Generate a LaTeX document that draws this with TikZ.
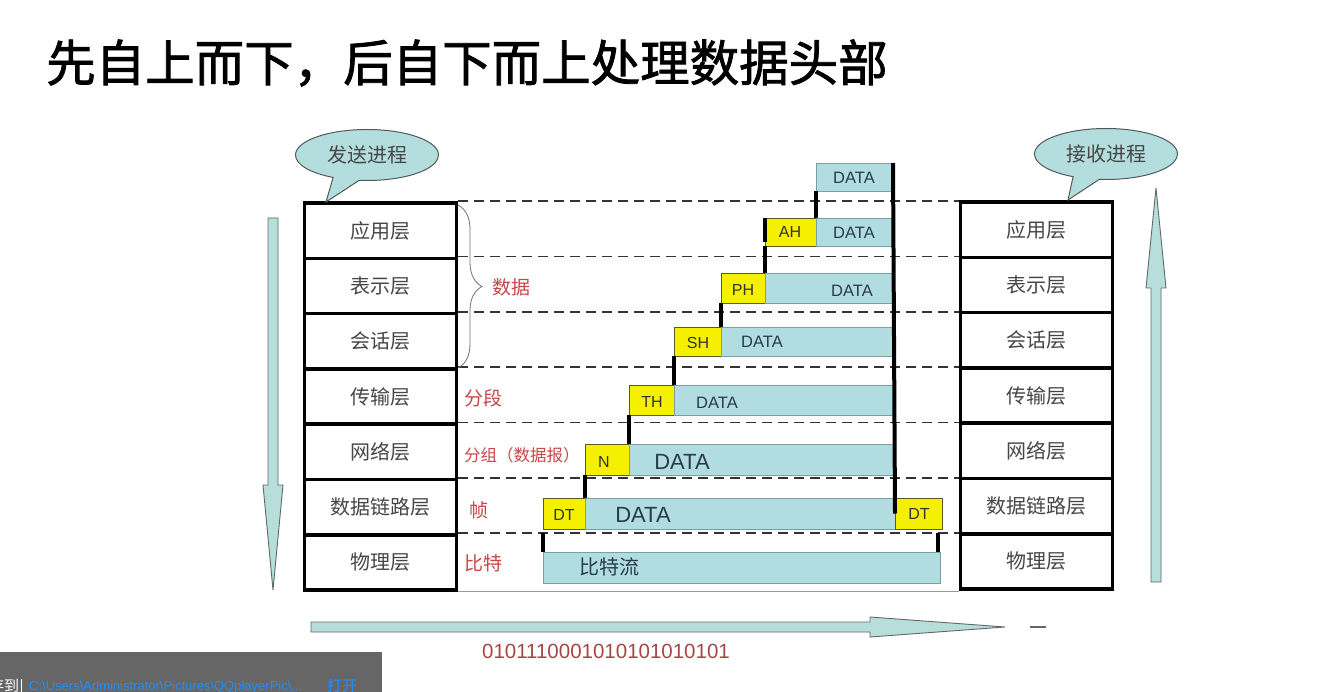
\documentclass[tikz,border=0pt]{standalone}
\usepackage{fontspec}
\setmainfont{Liberation Sans}
\newfontfamily\cjk{Noto Sans CJK SC}
\newfontfamily\cjktitle{Noto Sans CJK SC}[FakeBold=1.6]
\usetikzlibrary{shapes.callouts,decorations.pathreplacing,calc}
\newcommand\myfs[1]{\fontsize{#1}{#1}\selectfont}
\definecolor{tealf}{RGB}{178,221,224}
\definecolor{tealb}{RGB}{120,160,165}
\definecolor{yelf}{RGB}{244,240,0}
\definecolor{yelb}{RGB}{90,90,40}
\definecolor{arrf}{RGB}{184,222,220}
\definecolor{arrb}{RGB}{95,105,105}
\definecolor{callf}{RGB}{180,222,222}
\definecolor{callb}{RGB}{80,90,90}
\definecolor{redl}{RGB}{200,70,70}
\definecolor{binred}{RGB}{165,70,70}
\definecolor{laytxt}{RGB}{70,70,70}
\definecolor{datatxt}{RGB}{40,60,70}
\definecolor{barg}{RGB}{102,102,102}
\definecolor{linkblue}{RGB}{30,144,255}
\newcommand\rbox[6]{\node[#1, minimum width={#4pt-#2pt}, minimum height={#5pt-#3pt}] (#6) at (#2,#3) {};}
\begin{document}
\begin{tikzpicture}[x=1pt,y=-1pt,
  layerbox/.style={draw=black, line width=3.5pt, minimum width=152pt, minimum height=55.3pt, inner sep=0pt, font=\cjk\myfs{20}, text=laytxt},
  databox/.style={draw=tealb, fill=tealf, line width=0.8pt, inner sep=0pt, outer sep=0pt, anchor=north west},
  hdrbox/.style={draw=yelb, fill=yelf, line width=0.8pt, inner sep=0pt, outer sep=0pt, anchor=north west},
  dtxt/.style={font=\myfs{16.5}, text=datatxt, inner sep=0pt},
  htxt/.style={font=\myfs{16}, text=black!80, inner sep=0pt},
  conn/.style={draw=black, line width=4pt},
  dashline/.style={draw=black!80, line width=1.8pt, dash pattern=on 10pt off 6pt},
  redlbl/.style={text=redl, font=\cjk\myfs{19}, inner sep=0pt, anchor=west},
  blockarrow/.style={draw=arrb, fill=arrf, line width=0.9pt, line join=miter},
  callbox/.style={ellipse callout, draw=callb, fill=callf, line width=1pt, minimum width=143pt, minimum height=51pt, inner sep=0pt, font=\cjk\myfs{20}, text=laytxt, callout pointer arc=22}
]
\useasboundingbox (0,0) rectangle (1327,692);
\fill[white] (0,0) rectangle (1327,692);

% title
\node[anchor=west, font=\cjktitle\myfs{49.5}, inner sep=0pt] (title) at (46,63) {先自上而下，后自下而上处理数据头部};

% layer stacks
\foreach \i/\t in {1/应用层,2/表示层,3/会话层,4/传输层,5/网络层,6/数据链路层,7/物理层}{
  \node[layerbox] (l\i) at (380.5,{203+55.3*(\i-0.5)}) {\t};
  \node[layerbox] (r\i) at (1036.5,{202+55.3*(\i-0.5)}) {\t};
}

% dashed separators
\foreach \i in {1,...,7}{
  \draw[dashline] (l\i.north east) -- (l\i.north east -| r\i.west);
}
\draw[black!40, line width=1pt] (l7.south east) -- (l7.south east -| r7.west);

% data boxes
\rbox{databox}{816}{163}{893}{191}{d0}
\rbox{hdrbox}{765}{218}{816}{246}{h1}
\rbox{databox}{816}{218}{893}{246}{d1}
\rbox{hdrbox}{721}{273}{765}{303}{h2}
\rbox{databox}{765}{273}{893}{303}{d2}
\rbox{hdrbox}{674}{327}{721}{356}{h3}
\rbox{databox}{721}{327}{893}{356}{d3}
\rbox{hdrbox}{629}{385}{674}{415}{h4}
\rbox{databox}{674}{385}{893}{415}{d4}
\rbox{hdrbox}{585}{444}{629}{475}{h5}
\rbox{databox}{629}{444}{893}{475}{d5}
\rbox{hdrbox}{543}{498}{585}{529}{h6}
\rbox{databox}{585}{498}{895}{529}{d6}
\rbox{hdrbox}{895}{498}{942}{529}{t6}
\rbox{databox}{543}{552}{940}{583}{d7}

% texts in boxes
\node[dtxt] (x0) at (854,178) {DATA};
\node[dtxt] (x1) at (854,233) {DATA};
\node[dtxt] (x2) at (852,291) {DATA};
\node[dtxt] (x3) at (762,342) {DATA};
\node[dtxt] (x4) at (717,403) {DATA};
\node[dtxt, font=\myfs{22}] (x5) at (682,462) {DATA};
\node[dtxt, font=\myfs{22}] (x6) at (643,515) {DATA};
\node[dtxt, font=\cjk\myfs{20}] (x7) at (609,567) {比特流};
\node[htxt] (y1) at (790,232) {AH};
\node[htxt] (y2) at (743,290) {PH};
\node[htxt] (y3) at (698,343) {SH};
\node[htxt] (y4) at (652,402) {TH};
\node[htxt] (y5) at (604,462) {N};
\node[htxt] (y6) at (564,515) {DT};
\node[htxt] (y7) at (919,514) {DT};

% connectors
\draw[conn] (d0.south west) -- (d1.north west);
\draw[conn] (h1.north west) -- ($(h1.north west)+(0,24)$);
\draw[conn] (h1.south west) -- (d2.north west);
\draw[conn] (h2.south west) -- (d3.north west);
\draw[conn] (h3.south west) -- (d4.north west);
\draw[conn] (h4.south west) -- (d5.north west);
\draw[conn] (h5.south west) -- (d6.north west);
\draw[conn] ($(h6.south west)+(0,4)$) -- (d7.north west);
\draw[conn] ($(d7.north east)+(-2,0)$) -- ($(d7.north east)+(-2,-19)$);
\draw[conn] (d0.north east) -- (t6.west);

% red labels
\node[redlbl] (lb1) at (492,287) {数据};
\node[redlbl] (lb2) at (464,398) {分段};
\node[redlbl, font=\cjk\myfs{16.5}] (lb3) at (464,455) {分组（数据报）};
\node[redlbl] (lb4) at (469,510) {帧};
\node[redlbl] (lb5) at (464,563) {比特};
\draw[black!55, line width=0.8pt, decorate, decoration={brace, amplitude=24pt}] (458,205) -- (458,368);

% callouts
\node[callbox, callout absolute pointer={(326,202)}] (cs) at (367,155) {发送进程};
\node[callbox, callout absolute pointer={(1068,200)}] (cr) at (1106,154) {接收进程};

% block arrows
\draw[blockarrow] (268,218) -- (278,218) -- (278,485) -- (283,485) -- (273,590) -- (263,485) -- (268,485) -- cycle;
\draw[blockarrow] (1151,582) -- (1161,582) -- (1161,288) -- (1166,288) -- (1156,188) -- (1146,288) -- (1151,288) -- cycle;
\draw[blockarrow] (311,622) -- (870,622) -- (870,617) -- (1005,627) -- (870,637) -- (870,632) -- (311,632) -- cycle;
\draw[black!60, line width=2pt] (1030,627) -- (1046,627);

\node[font=\myfs{20.5}, text=binred, inner sep=0pt] (bin) at (606,651) {0101110001010101010101};

% bottom status bar
\fill[barg] (0,652) rectangle (382,692);
\begin{scope}
\clip (0,652) rectangle (382,692);
\node[anchor=west, inner sep=0pt, text=white, font=\cjk\myfs{15}] (s1) at (-11,686) {存到};
\draw[white, line width=1pt] (21,679) -- (21,692);
\node[anchor=west, inner sep=0pt, text=linkblue, font=\myfs{13}] (s2) at (29,687) {C:\textbackslash Users\textbackslash Administrator\textbackslash Pictures\textbackslash QQplayerPic\textbackslash ...};
\node[anchor=west, inner sep=0pt, text=linkblue, font=\cjk\myfs{15}] (s3) at (327,686) {打开};
\end{scope}
\end{tikzpicture}
\end{document}
